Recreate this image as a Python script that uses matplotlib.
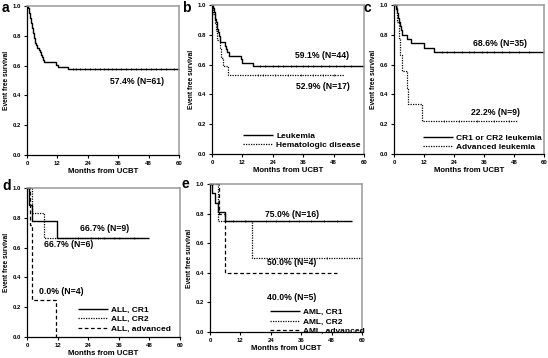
import matplotlib
matplotlib.use("Agg")
import matplotlib.pyplot as plt
from matplotlib.lines import Line2D
import numpy as np

plt.rcParams['font.family'] = ['Liberation Sans', 'DejaVu Sans']
plt.rcParams['font.weight'] = 'bold'

# ---------------- data ----------------
x_ticks = [0, 12, 24, 36, 48, 60]
y_ticks = [0.0, 0.2, 0.4, 0.6, 0.8, 1.0]

# panel a: all patients (N=61)
a_t = [0, 0.4, 0.6, 0.8, 1.0, 1.2, 1.4, 1.6, 1.8, 2.0, 2.2, 2.4, 2.6, 2.8, 3.0, 3.3, 3.6, 3.9,
       4.9, 5.2, 5.5, 5.9, 6.3, 6.8, 11.6, 12.4, 16.3, 60]
a_s = [1.000, 0.984, 0.967, 0.951, 0.934, 0.918, 0.902, 0.885, 0.869, 0.852, 0.836, 0.820, 0.803,
       0.787, 0.770, 0.754, 0.738, 0.721, 0.705, 0.689, 0.672, 0.656, 0.639, 0.623, 0.607, 0.590,
       0.574, 0.574]
a_cens = [18, 19.5, 21, 23, 25, 27, 29, 30.5, 32, 33.5, 35, 37, 39, 41, 43, 45, 47, 49, 51, 53, 55, 58]

# panel b
b_leuk_t = [0, 0.4, 0.7, 1.0, 1.2, 1.5, 1.8, 2.0, 2.3, 2.6, 3.0, 3.3, 5.0, 5.4, 5.8, 6.6, 11.6, 12.0, 16.2, 60]
b_leuk_s = [1.0, 0.977, 0.955, 0.932, 0.909, 0.886, 0.864, 0.841, 0.818, 0.795, 0.773, 0.750, 0.727,
            0.705, 0.682, 0.659, 0.636, 0.614, 0.591, 0.591]
b_leuk_cens = [19, 21, 24, 26, 28, 31, 33, 36, 38, 40, 43, 46, 49, 52, 55]
b_hem_t = [0, 0.5, 1.0, 1.5, 2.0, 3.0, 3.6, 4.3, 6.3, 52]
b_hem_s = [1.0, 0.941, 0.882, 0.824, 0.765, 0.706, 0.647, 0.588, 0.529, 0.529]
b_hem_cens = [18, 20, 25, 30, 35, 40, 44, 48]

# panel c
c_cr_t = [0, 0.8, 1.2, 1.6, 2.0, 2.3, 2.6, 3.0, 5.0, 6.7, 12.1, 16.1, 60]
c_cr_s = [1.0, 0.971, 0.943, 0.914, 0.886, 0.857, 0.829, 0.800, 0.771, 0.743, 0.714, 0.686, 0.686]
c_cr_cens = [19, 21, 24, 27, 30, 32, 35, 37, 40, 43, 46, 50, 54]
c_adv_t = [0, 1.0, 2.0, 2.4, 3.0, 5.1, 5.5, 11.3, 49]
c_adv_s = [1.0, 0.889, 0.778, 0.667, 0.556, 0.444, 0.333, 0.222, 0.222]
c_adv_cens = [20, 26, 33, 40, 46]

# panel d (ALL)
d_cr1_t = [0, 0.9, 2.1, 11.9, 48]
d_cr1_s = [1.0, 0.889, 0.778, 0.667, 0.667]
d_cr1_cens = [20, 25, 30, 36, 42]
d_cr2_t = [0, 1.8, 6.7, 44]
d_cr2_s = [1.0, 0.833, 0.667, 0.667]
d_cr2_cens = [28, 34]
d_adv_t = [0, 1.2, 1.8, 1.9, 11.3]
d_adv_s = [1.0, 0.75, 0.50, 0.25, 0.0]

# panel e (AML)
e_cr1_t = [0, 0.9, 2.0, 3.2, 5.8, 56]
e_cr1_s = [1.0, 0.9375, 0.875, 0.8125, 0.75, 0.75]
e_cr1_cens = [9, 14, 22, 26, 31, 35, 40, 45, 50]
e_cr2_t = [0, 3.0, 16.5, 60]
e_cr2_s = [1.0, 0.75, 0.50, 0.50]
e_cr2_cens = [46]
e_adv_t = [0, 3.7, 5.9, 6.0, 50]
e_adv_s = [1.0, 0.8, 0.6, 0.4, 0.4]

W, H = 548, 358
fig = plt.figure(figsize=(W / 100, H / 100), dpi=100)

ANN = 6.2
LEG = 6.0


def make_ax(left, right, top, bottom):
    ax = fig.add_axes([left / W, 1 - bottom / H, (right - left) / W, (bottom - top) / H])
    ax.set_xlim(0, 60)
    ax.set_ylim(0, 1.0)
    ax.set_xticks(x_ticks)
    ax.set_yticks(y_ticks)
    ax.set_yticklabels([f"{v:.1f}" for v in y_ticks])
    ax.tick_params(direction='out', length=2.5, width=0.8, labelsize=4.3, pad=1.5)
    for lab in ax.get_xticklabels() + ax.get_yticklabels():
        lab.set_fontweight('bold')
    for s in ['left', 'bottom']:
        ax.spines[s].set_color('black')
        ax.spines[s].set_linewidth(0.9)
    for s in ['top', 'right']:
        ax.spines[s].set_color('#999999')
        ax.spines[s].set_linewidth(1.1)
    ax.set_xlabel('Months from UCBT', fontsize=5.6, fontweight='bold', labelpad=2)
    ax.set_ylabel('Event free survival', fontsize=4.8, fontweight='bold', labelpad=2)
    return ax


def km(ax, t, s, cens, ls, lw):
    ax.step(t, s, where='post', color='black', linestyle=ls, linewidth=lw, clip_on=False)
    if cens:
        tt = np.array(t)
        ss = np.array(s)
        yc = [ss[np.searchsorted(tt, c, side='right') - 1] for c in cens]
        ax.plot(cens, yc, linestyle='none', marker='|', markersize=2.0, markeredgewidth=0.5,
                color='black')


def legend(ax, handles, labels, right_px, top_px, spacing):
    ax.legend(handles, labels, loc='upper right',
              bbox_to_anchor=(right_px / W, 1 - top_px / H), bbox_transform=fig.transFigure,
              frameon=False, fontsize=LEG, handlelength=3.6, handletextpad=0.4,
              labelspacing=spacing, borderpad=0, borderaxespad=0)


SOLID = (0, ())
DOT = (0, (1, 1))
DASH = (0, (3, 2))

h = [Line2D([], [], color='black', ls=SOLID, lw=1.0), Line2D([], [], color='black', ls=DOT, lw=0.9)]
h3 = h + [Line2D([], [], color='black', ls=DASH, lw=0.9)]

# ---- a ----
ax = make_ax(27, 179, 6, 155)
km(ax, a_t, a_s, a_cens, SOLID, 1.0)
ax.text(43.4, 0.49, '57.4% (N=61)', fontsize=ANN, fontweight='bold', ha='center', va='center')
fig.text(2 / W, 1 - 8 / H, 'a', fontsize=10, fontweight='bold', va='center')

# ---- b ----
ax = make_ax(212, 364, 5, 154)
km(ax, b_leuk_t, b_leuk_s, b_leuk_cens, SOLID, 1.0)
km(ax, b_hem_t, b_hem_s, b_hem_cens, DOT, 0.9)
ax.text(43.6, 0.664, '59.1% (N=44)', fontsize=ANN, fontweight='bold', ha='center', va='center')
ax.text(43.6, 0.456, '52.9% (N=17)', fontsize=ANN, fontweight='bold', ha='center', va='center')
legend(ax, h, ['Leukemia', 'Hematologic disease'], 361, 132, 0.12)
fig.text(182 / W, 1 - 8 / H, 'b', fontsize=10, fontweight='bold', va='center')

# ---- c ----
ax = make_ax(394, 544, 5, 154)
km(ax, c_cr_t, c_cr_s, c_cr_cens, SOLID, 1.0)
km(ax, c_adv_t, c_adv_s, c_adv_cens, DOT, 0.9)
ax.text(42.4, 0.743, '68.6% (N=35)', fontsize=ANN, fontweight='bold', ha='center', va='center')
ax.text(40.7, 0.277, '22.2% (N=9)', fontsize=ANN, fontweight='bold', ha='center', va='center')
legend(ax, h, ['CR1 or CR2 leukemia', 'Advanced leukemia'], 542, 134, 0.12)
fig.text(363 / W, 1 - 8 / H, 'c', fontsize=10, fontweight='bold', va='center')

# ---- d ----
ax = make_ax(27, 180, 188, 337)
km(ax, d_cr1_t, d_cr1_s, d_cr1_cens, SOLID, 1.0)
km(ax, d_cr2_t, d_cr2_s, d_cr2_cens, DOT, 0.9)
km(ax, d_adv_t, d_adv_s, None, DASH, 0.9)
ax.text(30.6, 0.725, '66.7% (N=9)', fontsize=ANN, fontweight='bold', ha='center', va='center')
ax.text(16.2, 0.62, '66.7% (N=6)', fontsize=ANN, fontweight='bold', ha='center', va='center')
ax.text(13.3, 0.307, '0.0% (N=4)', fontsize=ANN, fontweight='bold', ha='center', va='center')
legend(ax, h3, ['ALL, CR1', 'ALL, CR2', 'ALL, advanced'], 171, 306, 0.2)
fig.text(2 / W, 1 - 186 / H, 'd', fontsize=10, fontweight='bold', va='center')

# ---- e ----
ax = make_ax(210, 362, 184, 332)
km(ax, e_cr1_t, e_cr1_s, e_cr1_cens, SOLID, 1.0)
km(ax, e_cr2_t, e_cr2_s, e_cr2_cens, DOT, 0.9)
km(ax, e_adv_t, e_adv_s, None, DASH, 0.9)
ax.text(32.2, 0.765, '75.0% (N=16)', fontsize=ANN, fontweight='bold', ha='center', va='bottom')
ax.text(32.2, 0.47, '50.0% (N=4)', fontsize=ANN, fontweight='bold', ha='center', va='center')
ax.text(32.2, 0.23, '40.0% (N=5)', fontsize=ANN, fontweight='bold', ha='center', va='center')
legend(ax, h3, ['AML, CR1', 'AML, CR2', 'AML, advanced'], 365, 308.5, 0.2)
fig.text(182 / W, 1 - 184 / H, 'e', fontsize=10, fontweight='bold', va='center')

fig.savefig('out.png', dpi=100)
